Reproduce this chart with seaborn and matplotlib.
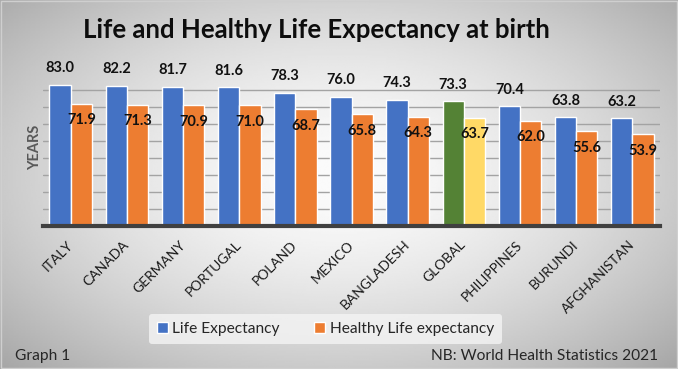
import numpy as np
import pandas as pd
import matplotlib.pyplot as plt
import seaborn as sns
from matplotlib.patches import Patch

# Data
countries = ["ITALY", "CANADA", "GERMANY", "PORTUGAL", "POLAND", "MEXICO",
             "BANGLADESH", "GLOBAL", "PHILIPPINES", "BURUNDI", "AFGHANISTAN"]
life_exp = [83.0, 82.2, 81.7, 81.6, 78.3, 76.0, 74.3, 73.3, 70.4, 63.8, 63.2]
healthy_exp = [71.9, 71.3, 70.9, 71.0, 68.7, 65.8, 64.3, 63.7, 62.0, 55.6, 53.9]
series = ["Life Expectancy", "Healthy Life expectancy"]

df = pd.DataFrame({
    "Country": countries * 2,
    "Years": life_exp + healthy_exp,
    "Series": [series[0]] * len(countries) + [series[1]] * len(countries),
})

blue, orange = "#4472C4", "#ED7D31"
green, yellow = "#548235", "#FFD966"

sns.set_theme(style="white")
plt.rcParams["font.family"] = ["Lato", "DejaVu Sans"]

fig = plt.figure(figsize=(6.78, 3.69), dpi=100)

# Radial grey gradient background
bg = fig.add_axes([0, 0, 1, 1], zorder=0)
gx, gy = np.meshgrid(np.linspace(-1, 1, 400), np.linspace(-1, 1, 220))
dist = np.sqrt((gx * 0.95) ** 2 + ((gy + 0.05) * 0.9) ** 2)
shade = np.clip(0.985 - 0.21 * dist ** 1.6, 0, 1)
bg.imshow(shade, cmap="gray", vmin=0, vmax=1, aspect="auto", extent=[0, 1, 0, 1])
bg.axis("off")
bg.add_patch(plt.Rectangle((0.001, 0.003), 0.997, 0.993, fill=False,
                           edgecolor="#cfcfcf", lw=1, transform=bg.transAxes))

ax = fig.add_axes([0.063, 0.3875, 0.911, 0.415], zorder=1)
ax.patch.set_alpha(0)

sns.barplot(data=df, x="Country", y="Years", hue="Series",
            palette=[blue, orange], width=0.76, saturation=1,
            legend=False, ax=ax, zorder=3)

# Global highlighted
gi = countries.index("GLOBAL")
ax.containers[0][gi].set_facecolor(green)
ax.containers[1][gi].set_facecolor(yellow)

# Value labels: life above the bar, healthy just inside the bar
for bar, v in zip(ax.containers[0], life_exp):
    ax.annotate(f"{v:.1f}", (bar.get_x() + bar.get_width() / 2, bar.get_height()),
                xytext=(0, 12), textcoords="offset points", ha="center", va="center",
                fontsize=10.5, fontweight="bold", color="#111111", zorder=5)
for bar, v in zip(ax.containers[1], healthy_exp):
    ax.annotate(f"{v:.1f}", (bar.get_x() + bar.get_width() / 2, bar.get_height()),
                xytext=(0, -12), textcoords="offset points", ha="center", va="center",
                fontsize=10.5, fontweight="bold", color="#111111", zorder=5)

ax.set_xlim(-0.5, len(countries) - 0.5)
ax.set_ylim(0, 90)
ax.set_yticks(range(10, 90, 10))
ax.set_yticklabels([])
ax.yaxis.grid(True, color="#a3a3a3", lw=1)
ax.set_axisbelow(True)
ax.tick_params(axis="y", length=0)
ax.tick_params(axis="x", length=0, pad=12)
ax.set_xticks(range(len(countries)))
ax.set_xticklabels(countries, rotation=45, ha="right", va="center",
                   rotation_mode="anchor", fontsize=10, color="#1a1a1a")
ax.set_xlabel("")
ax.set_ylabel("")
for s in ["top", "right", "left"]:
    ax.spines[s].set_visible(False)
ax.spines["bottom"].set_color("#404040")
ax.spines["bottom"].set_linewidth(3)
ax.spines["bottom"].set_zorder(4)

fig.text(0.052, 0.6, "YEARS", rotation=90, ha="center", va="center",
         fontsize=10.5, fontweight="bold", color="#595959")
fig.text(0.466, 0.919, "Life and Healthy Life Expectancy at birth",
         ha="center", va="center", fontsize=18.5, fontweight="bold", color="#0d0d0d")

handles = [Patch(facecolor=blue, label=series[0]), Patch(facecolor=orange, label=series[1])]
leg = fig.legend(handles=handles, loc="center", bbox_to_anchor=(0.48, 0.108), ncol=2,
                 frameon=True, fontsize=11.2, handlelength=0.7, handleheight=0.7,
                 handletextpad=0.3, columnspacing=2.2, borderpad=0.5)
leg.get_frame().set_facecolor("#f4f4f4")
leg.get_frame().set_edgecolor("none")
leg.get_frame().set_alpha(0.8)
for t in leg.get_texts():
    t.set_color("#262626")

fig.text(0.022, 0.035, "Graph 1", ha="left", va="center", fontsize=11.2, color="#262626")
fig.text(0.971, 0.035, "NB: World Health Statistics 2021", ha="right", va="center",
         fontsize=11.2, color="#262626")

fig.savefig("out.png", dpi=100)
